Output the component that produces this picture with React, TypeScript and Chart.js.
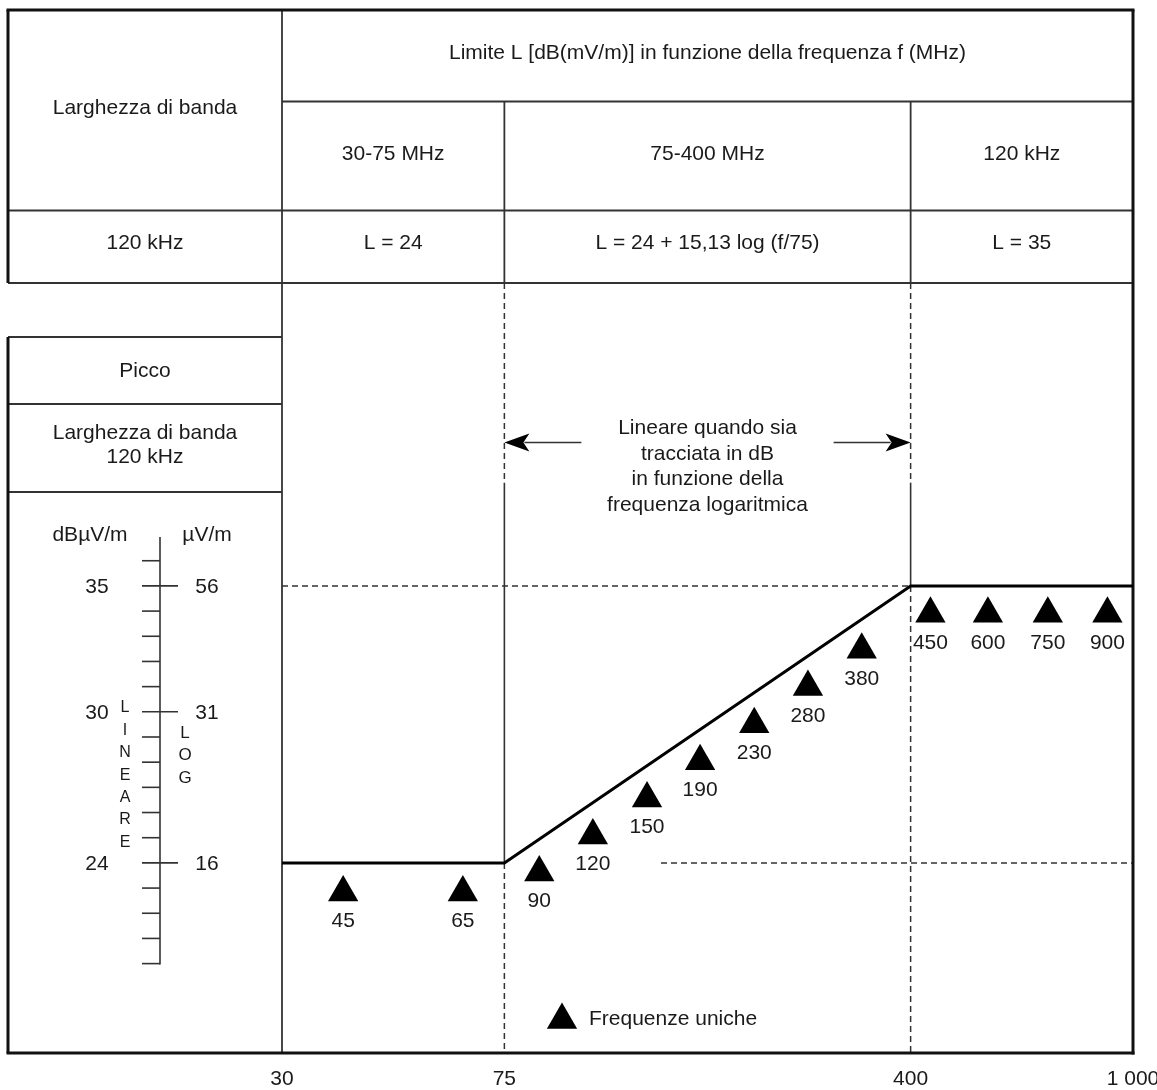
import React, { useEffect, useRef } from "react";
import { Chart, registerables } from "chart.js";

Chart.register(...registerables);

const FONT = '"Liberation Sans", Arial, Helvetica, sans-serif';
const INK = "#1a1a1a";
const LINE = "#333333";

// Limit line L (dB) versus frequency (MHz)
const limitFreq = [30, 75, 400, 1000];
const limitLevel = [24, 24, 35, 35];

// Single-frequency markers: nominal label, position on the chart's frequency axis, level (dB)
const markerLabels = ["45", "65", "90", "120", "150", "190", "230", "280", "380", "450", "600", "750", "900"];
const markerFreq = [38.6, 63.2, 86.6, 108, 135, 168, 210, 262, 327, 434, 550, 704, 900];
const markerLevel = [22.82, 22.82, 23.62, 25.09, 26.56, 28.04, 29.51, 30.99, 32.46, 33.89, 33.89, 33.89, 33.89];

// Frequency axis ticks
const xTickValues = [30, 75, 400, 1000];
const xTickLabels = ["30", "75", "400", "1 000"];

// Reference lines
const refVertFreq = [75, 400];
const refVertJoin = [24, 35]; // level where the solid part meets the limit line
const refVertSolidFrom = 39.1; // level where the dashed part turns solid
const refHorizLevel = [35, 24];
const refHorizFrom = [30, 143];
const refHorizTo = [400, 1000];
const arrowLevel = 40.7;

// Left ruler (dBµV/m linear, µV/m)
const rulerDb = [20, 21, 22, 23, 24, 25, 26, 27, 28, 29, 30, 31, 32, 33, 34, 35, 36];
const rulerMajorDb = [35, 30, 24];
const rulerDbLabels = ["35", "30", "24"];
const rulerUvLabels = ["56", "31", "16"];

// Table texts
const tableTitle = "Limite L [dB(mV/m)] in funzione della frequenza f (MHz)";
const bandHeader = "Larghezza di banda";
const bandRanges = ["30-75 MHz", "75-400 MHz", "120 kHz"];
const bandwidthValue = "120 kHz";
const limitFormulas = ["L = 24", "L = 24 + 15,13 log (f/75)", "L = 35"];
const noteLines = ["Lineare quando sia", "tracciata in dB", "in funzione della", "frequenza logaritmica"];
const linearWord = "LINEARE";
const logWord = "LOG";
const legendText = "Frequenze uniche";

const MARKER_R = 17.5;

function seg(ctx: CanvasRenderingContext2D, x1: number, y1: number, x2: number, y2: number, w: number, color: string, dash: number[] = []) {
  ctx.save();
  ctx.beginPath();
  ctx.setLineDash(dash);
  ctx.lineWidth = w;
  ctx.strokeStyle = color;
  ctx.lineCap = "butt";
  ctx.moveTo(x1, y1);
  ctx.lineTo(x2, y2);
  ctx.stroke();
  ctx.restore();
}

function txt(ctx: CanvasRenderingContext2D, s: string, x: number, y: number, size = 21, align: CanvasTextAlign = "center") {
  ctx.save();
  ctx.font = `${size}px ${FONT}`;
  ctx.fillStyle = INK;
  ctx.textAlign = align;
  ctx.textBaseline = "middle";
  ctx.fillText(s, x, y);
  ctx.restore();
}

function arrowHead(ctx: CanvasRenderingContext2D, tipX: number, y: number, dir: number) {
  ctx.save();
  ctx.beginPath();
  ctx.fillStyle = "#000";
  ctx.moveTo(tipX, y);
  ctx.lineTo(tipX - dir * 25, y - 9);
  ctx.lineTo(tipX - dir * 19, y);
  ctx.lineTo(tipX - dir * 25, y + 9);
  ctx.closePath();
  ctx.fill();
  ctx.restore();
}

function triangle(ctx: CanvasRenderingContext2D, cx: number, cy: number, r: number) {
  ctx.save();
  ctx.beginPath();
  ctx.fillStyle = "#000";
  ctx.moveTo(cx, cy - r);
  ctx.lineTo(cx + r * 0.866, cy + r / 2);
  ctx.lineTo(cx - r * 0.866, cy + r / 2);
  ctx.closePath();
  ctx.fill();
  ctx.restore();
}

const diagramPlugin = {
  id: "diagram",
  beforeDatasetsDraw(chart: any) {
    const { ctx, chartArea } = chart;
    const x = chart.scales.x;
    const y = chart.scales.y;
    const L = 8;
    const R = chartArea.right;
    const T = 10;
    const B = chartArea.bottom;
    const C = chartArea.left;
    const row1 = 101.5;
    const row2 = 210.5;
    const tb = chartArea.top;
    const x75 = x.getPixelForValue(75);
    const x400 = x.getPixelForValue(400);

    ctx.save();
    ctx.fillStyle = "#fff";
    ctx.fillRect(0, 0, chart.width, chart.height);
    ctx.restore();

    // table internal lines
    seg(ctx, C, row1, R, row1, 1.8, LINE);
    seg(ctx, L, row2, R, row2, 1.8, LINE);
    seg(ctx, L, tb, R, tb, 1.8, LINE);
    seg(ctx, C, T, C, B, 1.8, LINE);
    seg(ctx, x75, row1, x75, tb, 1.8, LINE);
    seg(ctx, x400, row1, x400, tb, 1.8, LINE);

    // left panel lines
    seg(ctx, L, 337, C, 337, 1.8, LINE);
    seg(ctx, L, 404, C, 404, 1.8, LINE);
    seg(ctx, L, 492, C, 492, 1.8, LINE);

    // reference lines in the plot
    const dash = [6, 4];
    refVertFreq.forEach((f, i) => {
      const px = x.getPixelForValue(f);
      seg(ctx, px, tb, px, y.getPixelForValue(refVertSolidFrom), 1.5, LINE, dash);
      seg(ctx, px, y.getPixelForValue(refVertSolidFrom), px, y.getPixelForValue(refVertJoin[i]), 1.6, LINE);
      seg(ctx, px, y.getPixelForValue(refVertJoin[i]), px, B, 1.5, LINE, dash);
    });
    refHorizLevel.forEach((lv, i) => {
      const py = y.getPixelForValue(lv);
      seg(ctx, x.getPixelForValue(refHorizFrom[i]), py, x.getPixelForValue(refHorizTo[i]), py, 1.5, LINE, dash);
    });

    // outer frame
    seg(ctx, L - 1.5, T, R + 1.5, T, 3, "#111");
    seg(ctx, L, T, L, tb, 3, "#111");
    seg(ctx, L, 337, L, B, 3, "#111");
    seg(ctx, R, T, R, B + 1.5, 3, "#111");
    seg(ctx, L - 1.5, B, R + 1.5, B, 3, "#111");

    // table texts
    txt(ctx, tableTitle, (C + R) / 2, 53);
    txt(ctx, bandHeader, (L + C) / 2, 108);
    const cols = [C, x75, x400, R];
    bandRanges.forEach((s, i) => txt(ctx, s, (cols[i] + cols[i + 1]) / 2, 154));
    txt(ctx, bandwidthValue, (L + C) / 2, 243);
    limitFormulas.forEach((s, i) => txt(ctx, s, (cols[i] + cols[i + 1]) / 2, 243));

    // left panel texts
    txt(ctx, "Picco", (L + C) / 2, 371);
    txt(ctx, bandHeader, (L + C) / 2, 433);
    txt(ctx, bandwidthValue, (L + C) / 2, 457);
  },
  afterDatasetsDraw(chart: any) {
    const { ctx, chartArea } = chart;
    const x = chart.scales.x;
    const y = chart.scales.y;
    const B = chartArea.bottom;

    // marker labels
    const meta = chart.getDatasetMeta(1);
    meta.data.forEach((pt: any, i: number) => {
      txt(ctx, markerLabels[i], pt.x, pt.y + 29);
    });

    // note with arrows
    const x75 = x.getPixelForValue(75);
    const x400 = x.getPixelForValue(400);
    const ay = y.getPixelForValue(arrowLevel);
    const mid = (x75 + x400) / 2;
    seg(ctx, x75 + 20, ay, x75 + 77, ay, 1.5, LINE);
    arrowHead(ctx, x75, ay, -1);
    seg(ctx, x400 - 77, ay, x400 - 20, ay, 1.5, LINE);
    arrowHead(ctx, x400, ay, 1);
    const offs = [-14, 12, 37, 63];
    noteLines.forEach((s, i) => txt(ctx, s, mid, ay + offs[i]));

    // legend
    triangle(ctx, 562, 1020, MARKER_R);
    txt(ctx, legendText, 589, 1019, 21, "left");

    // frequency tick labels
    xTickValues.forEach((v, i) => txt(ctx, xTickLabels[i], x.getPixelForValue(v), B + 26));

    // left ruler
    const rx = 160;
    seg(ctx, rx, 537, rx, y.getPixelForValue(rulerDb[0]) + 0.8, 1.6, LINE);
    rulerDb.forEach((d) => {
      const py = y.getPixelForValue(d);
      const major = rulerMajorDb.includes(d);
      seg(ctx, 142, py, major ? 178 : rx, py, 1.6, LINE);
    });
    rulerMajorDb.forEach((d, i) => {
      const py = y.getPixelForValue(d);
      txt(ctx, rulerDbLabels[i], 97, py + 1);
      txt(ctx, rulerUvLabels[i], 207, py + 1);
    });
    txt(ctx, "dBµV/m", 90, 535);
    txt(ctx, "µV/m", 207, 535);
    linearWord.split("").forEach((c, i) => txt(ctx, c, 125, 708 + i * 22.4, 16));
    logWord.split("").forEach((c, i) => txt(ctx, c, 185, 733 + i * 22.5, 17));
  },
};

export default function App() {
  const ref = useRef<HTMLCanvasElement>(null);
  useEffect(() => {
    const canvas = ref.current;
    if (!canvas) return;
    const chart = new Chart(canvas, {
      type: "line",
      data: {
        datasets: [
          {
            type: "line",
            label: "Limite L",
            data: limitFreq.map((f, i) => ({ x: f, y: limitLevel[i] })),
            borderColor: "#000",
            borderWidth: 3,
            pointRadius: 0,
            tension: 0,
            fill: false,
          },
          {
            type: "scatter",
            label: legendText,
            data: markerFreq.map((f, i) => ({ x: f, y: markerLevel[i] })),
            pointStyle: "triangle",
            pointRadius: MARKER_R,
            pointHoverRadius: MARKER_R,
            backgroundColor: "#000",
            borderColor: "#000",
            borderWidth: 0,
            showLine: false,
          },
        ],
      } as any,
      options: {
        animation: false,
        responsive: false,
        maintainAspectRatio: false,
        events: [],
        layout: { padding: { left: 282, right: 24, top: 283, bottom: 37 } },
        scales: {
          x: { type: "logarithmic", min: 30, max: 1000, display: false },
          y: { type: "linear", min: 16.45, max: 47.03, display: false },
        },
        plugins: { legend: { display: false }, tooltip: { enabled: false } },
      } as any,
      plugins: [diagramPlugin],
    });
    return () => chart.destroy();
  }, []);
  return (
    <div style={{ position: "absolute", left: 0, top: 0, width: 1157, height: 1090, background: "#fff" }}>
      <canvas ref={ref} width={1157} height={1090} style={{ width: 1157, height: 1090, display: "block" }} />
    </div>
  );
}
